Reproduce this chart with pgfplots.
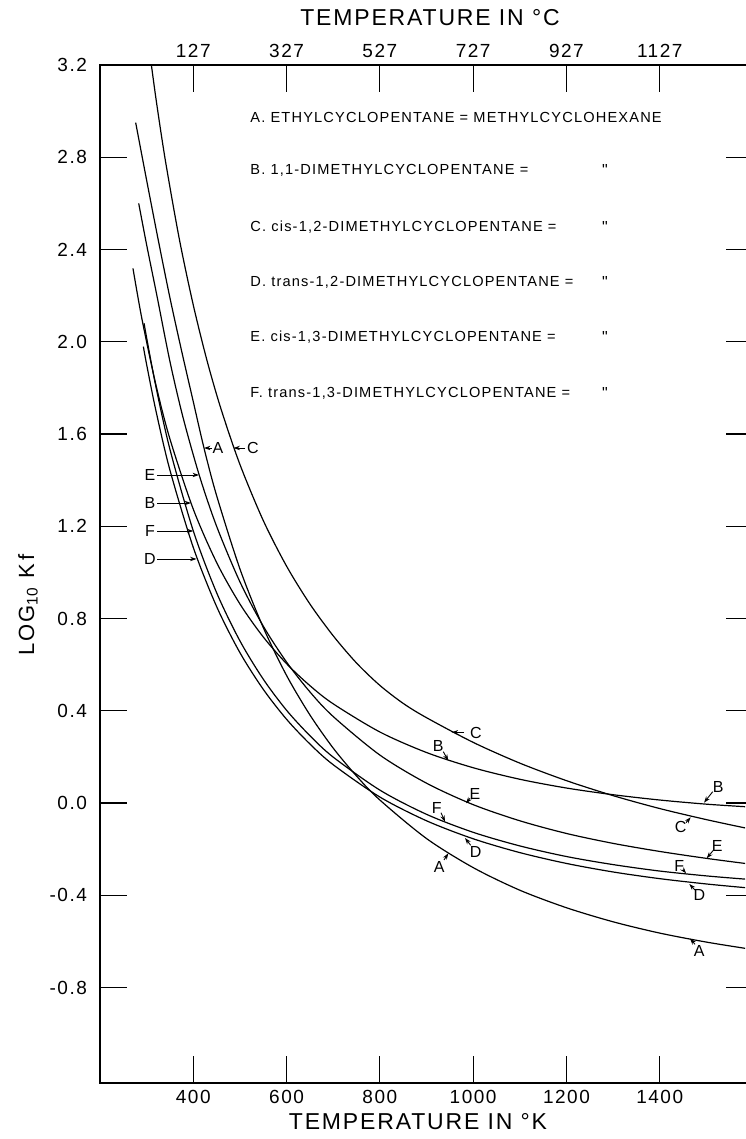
\documentclass[border=0pt]{standalone}
\usepackage{fontspec}
\setmainfont{Liberation Sans}
\newfontfamily\lero{Liberation Sans}[LetterSpace=8]
\usepackage{pgfplots}
\pgfplotsset{compat=1.18}
\usetikzlibrary{arrows.meta}

\pgfplotsset{
  chartbase/.style={
    width=326.5pt,height=509pt,scale only axis,
    xmin=200,xmax=1600,ymin=-1.214,ymax=3.2,
    tick align=inside,major tick length=13.5pt,
    tick style={black,line width=0.6pt},
    axis line style={black,line width=0.9pt},
    tick label style={font=\lero\fontsize{9.5}{11}\selectfont},
    /pgf/number format/assume math mode=true,
  }
}
\tikzset{curve/.style={black,line width=0.6pt,smooth,no markers},
  lab/.style={font=\lero\fontsize{8}{9}\selectfont,inner sep=0pt},
  arr/.style={line width=0.45pt,-{Stealth[length=3.2pt,width=2.2pt]}},
  leg/.style={font=\lero\fontsize{7.3}{9}\selectfont,anchor=west,inner sep=0pt}}

\begin{document}
\begin{tikzpicture}
\begin{axis}[chartbase,
  xtick={400,600,800,1000,1200,1400},
  xticklabels={400,600,800,1000,1200,1400},
  xtick pos=bottom,
  ytick={-0.8,-0.4,0,0.4,0.8,1.2,1.6,2.0,2.4,2.8,3.2},
  yticklabels={-0.8,-0.4,0.0,0.4,0.8,1.2,1.6,2.0,2.4,2.8,3.2},
  ytick pos=both,yticklabel pos=left,
  yticklabel style={xshift=-3pt},
  clip=true]
% A ethylcyclopentane = methylcyclohexane
\addplot[curve] coordinates {(276.5,2.95) (300,2.70) (325,2.44) (350,2.19) (375,1.96) (400,1.74) (423,1.539) (450,1.333) (500,1.015) (550,0.761) (600,0.553) (650,0.382) (700,0.238) (750,0.117) (800,0.013) (900,-0.154) (1000,-0.280) (1100,-0.378) (1200,-0.454) (1300,-0.515) (1400,-0.564) (1500,-0.603) (1583,-0.630)};
% B 1,1-dimethylcyclopentane
\addplot[curve] coordinates {(270.7,2.318) (290,2.098) (320,1.812) (350,1.578) (400,1.274) (450,1.043) (500,0.863) (550,0.720) (600,0.604) (650,0.509) (700,0.430) (800,0.308) (900,0.219) (1000,0.153) (1100,0.103) (1200,0.065) (1300,0.036) (1400,0.013) (1500,-0.005) (1583,-0.016)};
% C cis-1,2
\addplot[curve] coordinates {(305,3.279) (320,3.054) (340,2.788) (370,2.446) (400,2.159) (430,1.914) (460,1.705) (500,1.468) (550,1.225) (600,1.027) (650,0.863) (700,0.725) (750,0.607) (800,0.510) (850,0.432) (900,0.370) (1000,0.263) (1100,0.173) (1200,0.097) (1300,0.032) (1400,-0.024) (1500,-0.072) (1583,-0.108)};
% D trans-1,2
\addplot[curve] coordinates {(293,1.979) (300,1.901) (320,1.700) (350,1.443) (400,1.108) (450,0.852) (500,0.652) (550,0.493) (600,0.363) (650,0.256) (700,0.166) (800,0.026) (900,-0.077) (1000,-0.155) (1100,-0.215) (1200,-0.262) (1300,-0.299) (1400,-0.328) (1500,-0.351) (1583,-0.367)};
% E cis-1,3
\addplot[curve] coordinates {(283,2.60) (300,2.42) (322,2.20) (350,1.914) (378,1.672) (413,1.420) (450,1.200) (500,0.959) (550,0.767) (600,0.611) (650,0.482) (700,0.375) (800,0.208) (900,0.086) (1000,-0.007) (1100,-0.077) (1200,-0.132) (1300,-0.175) (1400,-0.210) (1500,-0.240) (1583,-0.262)};
% F trans-1,3
\addplot[curve] coordinates {(294.5,2.08) (300,2.017) (320,1.804) (350,1.533) (400,1.180) (450,0.912) (500,0.703) (550,0.537) (600,0.402) (650,0.292) (700,0.199) (800,0.056) (900,-0.049) (1000,-0.127) (1100,-0.186) (1200,-0.232) (1300,-0.267) (1400,-0.295) (1500,-0.316) (1583,-0.330)};
\coordinate (NW) at (rel axis cs:0,1);
\end{axis}
\begin{axis}[chartbase,
  axis x line*=top,axis y line=none,
  xtick={400,600,800,1000,1200,1400},
  xticklabels={127,327,527,727,927,1127}]
\end{axis}
% annotations in pixel units of the reference (y downward)
\begin{scope}[shift={(NW)},xshift=-50pt,yshift=32.5pt,x=0.5pt,y=-0.5pt]
\node[font=\lero\fontsize{11.5}{13}\selectfont] at (430,18) {TEMPERATURE IN °C};
\node[font=\lero\fontsize{11.5}{13}\selectfont] at (418,1122) {TEMPERATURE IN °K};
\node[font=\lero\fontsize{11}{13}\selectfont,rotate=90] at (28,605) {LOG\textsubscript{10} K\,f};
% legend
\node[leg] at (250,117) {A.\ ETHYLCYCLOPENTANE = METHYLCYCLOHEXANE};
\node[leg] at (250,170) {B.\ 1,1-DIMETHYLCYCLOPENTANE =};
\node[leg] at (250,227) {C.\ cis-1,2-DIMETHYLCYCLOPENTANE =};
\node[leg] at (250,282) {D.\ trans-1,2-DIMETHYLCYCLOPENTANE =};
\node[leg] at (250,337) {E.\ cis-1,3-DIMETHYLCYCLOPENTANE =};
\node[leg] at (250,393) {F.\ trans-1,3-DIMETHYLCYCLOPENTANE =};
\foreach \yy in {170,227,282,337,393}{\node[lab] at (605,\yy) {"};}
% left labels
\node[lab] at (218,448) {A}; \draw[arr] (212,448) -- (204,448);
\node[lab] at (253,448) {C}; \draw[arr] (245,448) -- (233.5,448);
\node[lab] at (150,475) {E}; \draw[arr] (157,475) -- (199,475);
\node[lab] at (150,503) {B}; \draw[arr] (157,503) -- (191,503);
\node[lab] at (150,531) {F}; \draw[arr] (157,531) -- (193.3,531);
\node[lab] at (150,559) {D}; \draw[arr] (157,559) -- (196.5,559);
% middle labels
\node[lab] at (476,733) {C}; \draw[arr] (464,732.3) -- (451.7,732.3);
\node[lab] at (438.3,746) {B}; \draw[arr] (443.3,751.7) -- (448.3,760.7);
\node[lab] at (475,794.3) {E}; \draw[arr] (470,798.3) -- (466,803.3);
\node[lab] at (436.7,807.7) {F}; \draw[arr] (441,812.7) -- (445,821.7);
\node[lab] at (475.7,852) {D}; \draw[arr] (470.7,845.3) -- (465,838);
\node[lab] at (439.3,866.7) {A}; \draw[arr] (444,860) -- (448.3,853.3);
% right labels
\node[lab] at (718.3,787.3) {B}; \draw[arr] (712.7,791.7) -- (704,802.7);
\node[lab] at (680.7,827.3) {C}; \draw[arr] (686,822.7) -- (690.7,817.3);
\node[lab] at (717.3,846) {E}; \draw[arr] (713.3,850.3) -- (706.7,858.3);
\node[lab] at (679.3,866) {F}; \draw[arr] (683.3,870) -- (686,873.3);
\node[lab] at (699.3,895) {D}; \draw[arr] (695,890) -- (689.3,884);
\node[lab] at (699.3,951) {A}; \draw[arr] (695,944.3) -- (690,938.5);
\coordinate (BB1) at (0,0);
\coordinate (BB2) at (745,1139);
\end{scope}
\pgfresetboundingbox
\path[use as bounding box] (BB1) rectangle (BB2);
\end{tikzpicture}
\end{document}
